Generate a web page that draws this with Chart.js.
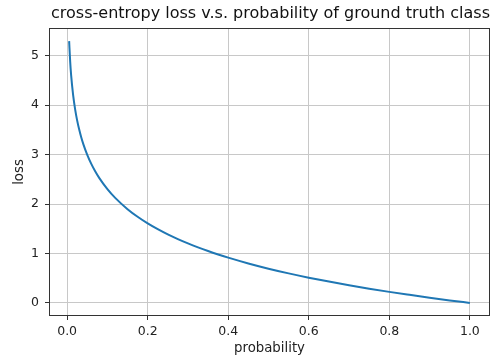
<!DOCTYPE html>
<html>
<head>
<meta charset="utf-8">
<script src="https://cdn.jsdelivr.net/npm/chart.js@4"></script>
<style>
  body { margin: 0; background: #fff; }
</style>
</head>
<body>
<canvas id="myChart" width="491" height="355"></canvas>
<script>
const ctx = document.getElementById('myChart').getContext('2d');

// probability of the ground truth class (x) and the loss (y)
const probability = [0.005, 0.0075, 0.01, 0.015, 0.02, 0.025, 0.03, 0.035, 0.04, 0.05,
                     0.06, 0.07, 0.08, 0.1, 0.12, 0.15, 0.175, 0.2, 0.225, 0.25,
                     0.275, 0.3, 0.325, 0.35, 0.375, 0.4, 0.45, 0.5, 0.55, 0.6,
                     0.65, 0.7, 0.75, 0.8, 0.85, 0.9, 0.95, 1.0];
const loss = [5.298, 4.893, 4.605, 4.200, 3.912, 3.689, 3.507, 3.352, 3.219, 2.996,
              2.813, 2.659, 2.526, 2.303, 2.120, 1.897, 1.743, 1.609, 1.492, 1.386,
              1.291, 1.204, 1.124, 1.050, 0.981, 0.916, 0.799, 0.693, 0.598, 0.511,
              0.431, 0.357, 0.288, 0.223, 0.163, 0.105, 0.051, 0.000];

const titleText = 'cross-entropy loss v.s. probability of ground truth class';
const xTitle = 'probability';
const yTitle = 'loss';

const font = 'DejaVu Sans';

// title centred over the axes + full frame like matplotlib spines
const framePlugin = {
    id: 'frame',
    afterDraw(chart) {
        const a = chart.chartArea;
        const c = chart.ctx;
        c.save();
        c.strokeStyle = '#333';
        c.lineWidth = 1;
        c.strokeRect(a.left + 0.5, a.top + 0.5, a.right - a.left - 1, a.bottom - a.top - 1);
        c.fillStyle = '#111';
        c.font = '16px "' + font + '"';
        c.textAlign = 'center';
        c.textBaseline = 'middle';
        c.fillText(titleText, (a.left + a.right) / 2 + 1, 14);
        c.restore();
    }
};

const myChart = new Chart(ctx, {
    type: 'line',
    data: {
        datasets: [{
            data: probability.map((p, i) => ({ x: p, y: loss[i] })),
            borderColor: '#1f77b4',
            borderWidth: 2,
            pointRadius: 0,
            fill: false,
            cubicInterpolationMode: 'monotone'
        }]
    },
    options: {
        responsive: false,
        animation: false,
        layout: { padding: { top: 28, right: 1, left: 0, bottom: 0 } },
        plugins: {
            legend: { display: false },
            tooltip: { enabled: false }
        },
        scales: {
            x: {
                type: 'linear',
                min: -0.045,
                max: 1.05,
                afterFit: (s) => { s.height = 39; },
                border: { display: false },
                grid: { color: '#c8c8c8', lineWidth: 1, tickLength: 4, tickColor: '#333' },
                ticks: {
                    stepSize: 0.2,
                    includeBounds: false,
                    padding: 4,
                    color: '#222',
                    font: { family: font, size: 12.5 },
                    maxRotation: 0,
                    callback: (v) => v.toFixed(1)
                },
                title: {
                    display: true,
                    text: xTitle,
                    color: '#222',
                    font: { family: font, size: 13.3 },
                    padding: { top: 0, bottom: -2 }
                }
            },
            y: {
                type: 'linear',
                min: -0.265,
                max: 5.563,
                afterFit: (s) => { s.width = 49; },
                border: { display: false },
                grid: { color: '#c8c8c8', lineWidth: 1, tickLength: 4, tickColor: '#333' },
                ticks: {
                    stepSize: 1,
                    includeBounds: false,
                    padding: 6,
                    color: '#222',
                    font: { family: font, size: 12.5 },
                    callback: (v) => v.toFixed(0)
                },
                title: {
                    display: true,
                    text: yTitle,
                    color: '#222',
                    font: { family: font, size: 13.3 },
                    padding: { top: 12, bottom: 0 }
                }
            }
        }
    },
    plugins: [framePlugin]
});
</script>
</body>
</html>
